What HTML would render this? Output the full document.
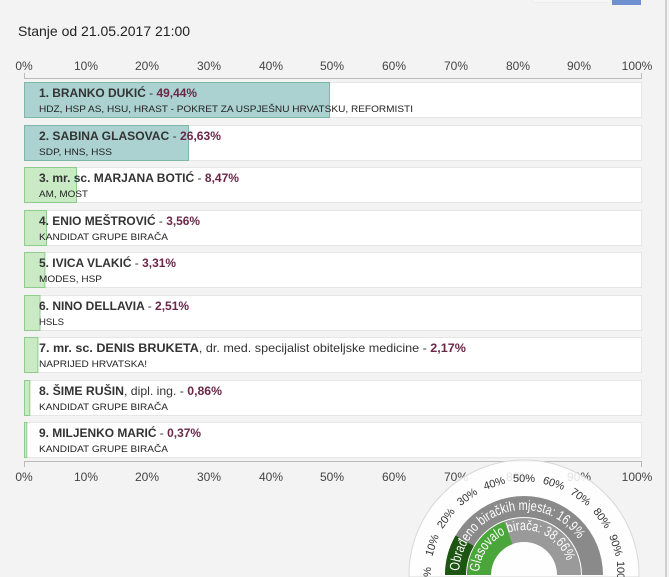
<!DOCTYPE html>
<html><head><meta charset="utf-8"><style>
html,body{margin:0;padding:0;background:#f3f3f3;width:669px;height:577px;overflow:hidden;}
svg{display:block;font-family:"Liberation Sans",sans-serif;}
</style></head><body>
<svg width="669" height="577" viewBox="0 0 669 577" xmlns="http://www.w3.org/2000/svg">
<defs>
<clipPath id="cl"><rect x="0" y="0" width="669" height="577"/></clipPath>
<path id="po" d="M459 575 A65 65 0 0 1 589 575"/>
<path id="pi" d="M479 575 A45 45 0 0 1 569 575"/>
</defs>
<rect x="0" y="0" width="669" height="577" fill="#f3f3f3"/>
<rect x="665" y="0" width="2" height="577" fill="#d0d0d0"/>
<rect x="532" y="0" width="79" height="2" fill="#fff" stroke="#ddd" stroke-width="0.5"/>
<rect x="612" y="0" width="29" height="5" fill="#6f8fcf"/>
<text x="18" y="36" font-size="14" fill="#222">Stanje od 21.05.2017 21:00</text>
<g font-size="12" fill="#444" text-anchor="middle">
<text x="24" y="70">0%</text><text x="86" y="70">10%</text><text x="147" y="70">20%</text><text x="209" y="70">30%</text><text x="271" y="70">40%</text><text x="332" y="70">50%</text><text x="394" y="70">60%</text><text x="456" y="70">70%</text><text x="518" y="70">80%</text><text x="579" y="70">90%</text><text x="637" y="70">100%</text>
<text x="24" y="481">0%</text><text x="86" y="481">10%</text><text x="147" y="481">20%</text><text x="209" y="481">30%</text><text x="271" y="481">40%</text><text x="332" y="481">50%</text><text x="394" y="481">60%</text><text x="456" y="481">70%</text><text x="518" y="481">80%</text><text x="579" y="481">90%</text><text x="637" y="481">100%</text>
</g>
<path d="M24.5 73V78.5H641.5V73" fill="none" stroke="#bbb"/>
<path d="M24.5 467V461.5H641.5V467" fill="none" stroke="#bbb"/>
<g stroke="#e6e6e6" fill="#fff">
<rect x="24.5" y="82.5" width="617" height="35"/>
<rect x="24.5" y="125.5" width="617" height="35"/>
<rect x="24.5" y="167.5" width="617" height="35"/>
<rect x="24.5" y="210.5" width="617" height="35"/>
<rect x="24.5" y="252.5" width="617" height="35"/>
<rect x="24.5" y="295.5" width="617" height="35"/>
<rect x="24.5" y="337.5" width="617" height="35"/>
<rect x="24.5" y="380.5" width="617" height="35"/>
<rect x="24.5" y="422.5" width="617" height="35"/>
</g>
<g>
<rect x="24.5" y="82.5" width="305" height="35" fill="#abd2d1" stroke="#7db8a6"/>
<rect x="24.5" y="125.5" width="164" height="35" fill="#abd2d1" stroke="#7db8a6"/>
<rect x="24.5" y="167.5" width="52" height="35" fill="#c9eac5" stroke="#8fcb8b"/>
<rect x="24.5" y="210.5" width="22" height="35" fill="#c9eac5" stroke="#8fcb8b"/>
<rect x="24.5" y="252.5" width="20.4" height="35" fill="#c9eac5" stroke="#8fcb8b"/>
<rect x="24.5" y="295.5" width="15.5" height="35" fill="#c9eac5" stroke="#8fcb8b"/>
<rect x="24.5" y="337.5" width="13.4" height="35" fill="#c9eac5" stroke="#8fcb8b"/>
<rect x="24.5" y="380.5" width="5.3" height="35" fill="#c9eac5" stroke="#8fcb8b"/>
<rect x="24.5" y="422.5" width="2.3" height="35" fill="#c9eac5" stroke="#8fcb8b"/>
</g>
<g font-size="12" font-weight="bold" fill="#333">
<text x="39" y="97" textLength="158" lengthAdjust="spacingAndGlyphs">1. BRANKO DUKIĆ <tspan font-weight="normal">-</tspan> <tspan fill="#6b2748">49,44%</tspan></text>
<text x="39" y="140" textLength="182" lengthAdjust="spacingAndGlyphs">2. SABINA GLASOVAC <tspan font-weight="normal">-</tspan> <tspan fill="#6b2748">26,63%</tspan></text>
<text x="39" y="182" textLength="200" lengthAdjust="spacingAndGlyphs">3. mr. sc. MARJANA BOTIĆ <tspan font-weight="normal">-</tspan> <tspan fill="#6b2748">8,47%</tspan></text>
<text x="39" y="225" textLength="161" lengthAdjust="spacingAndGlyphs">4. ENIO MEŠTROVIĆ <tspan font-weight="normal">-</tspan> <tspan fill="#6b2748">3,56%</tspan></text>
<text x="39" y="267" textLength="137" lengthAdjust="spacingAndGlyphs">5. IVICA VLAKIĆ <tspan font-weight="normal">-</tspan> <tspan fill="#6b2748">3,31%</tspan></text>
<text x="39" y="310">6. NINO DELLAVIA <tspan font-weight="normal">-</tspan> <tspan fill="#6b2748">2,51%</tspan></text>
<text x="39" y="352" textLength="427" lengthAdjust="spacingAndGlyphs">7. mr. sc. DENIS BRUKETA<tspan font-weight="normal">, dr. med. specijalist obiteljske medicine -</tspan> <tspan fill="#6b2748">2,17%</tspan></text>
<text x="39" y="395" textLength="183" lengthAdjust="spacingAndGlyphs">8. ŠIME RUŠIN<tspan font-weight="normal">, dipl. ing. -</tspan> <tspan fill="#6b2748">0,86%</tspan></text>
<text x="39" y="437" textLength="162" lengthAdjust="spacingAndGlyphs">9. MILJENKO MARIĆ <tspan font-weight="normal">-</tspan> <tspan fill="#6b2748">0,37%</tspan></text>
</g>
<g font-size="9.5" fill="#222">
<text x="39" y="112" textLength="374" lengthAdjust="spacingAndGlyphs">HDZ, HSP AS, HSU, HRAST - POKRET ZA USPJEŠNU HRVATSKU, REFORMISTI</text>
<text x="39" y="155" textLength="73" lengthAdjust="spacingAndGlyphs">SDP, HNS, HSS</text>
<text x="39" y="197" textLength="49" lengthAdjust="spacingAndGlyphs">AM, MOST</text>
<text x="39" y="240" textLength="129" lengthAdjust="spacingAndGlyphs">KANDIDAT GRUPE BIRAČA</text>
<text x="39" y="282" textLength="63" lengthAdjust="spacingAndGlyphs">MODES, HSP</text>
<text x="39" y="325" textLength="25" lengthAdjust="spacingAndGlyphs">HSLS</text>
<text x="39" y="367" textLength="108" lengthAdjust="spacingAndGlyphs">NAPRIJED HRVATSKA!</text>
<text x="39" y="410" textLength="129" lengthAdjust="spacingAndGlyphs">KANDIDAT GRUPE BIRAČA</text>
<text x="39" y="452" textLength="129" lengthAdjust="spacingAndGlyphs">KANDIDAT GRUPE BIRAČA</text>
</g>
<g clip-path="url(#cl)">
<path d="M409 577 L409 575 A115 115 0 0 1 639 575 L639 577 Z" fill="#fff" fill-opacity="0.85" stroke="#d8d8d8"/>
<path d="M445 575 A79 79 0 0 1 603 575 L582 575 A58 58 0 0 0 466 575 Z" fill="#8a8a8a"/>
<path d="M445 575 A79 79 0 0 1 455.6 535.5 L473.8 546 A58 58 0 0 0 466 575 Z" fill="#1d5512"/>
<path d="M467 575 A57 57 0 0 1 581 575 L557 575 A33 33 0 0 0 491 575 Z" fill="#9a9a9a"/>
<path d="M467 575 A57 57 0 0 1 504.2 521.6 L512.5 544.1 A33 33 0 0 0 491 575 Z" fill="#4aa63a"/>
<text font-size="14" fill="#fff"><textPath href="#po" startOffset="4" textLength="162" lengthAdjust="spacingAndGlyphs">Obrađeno biračkih mjesta: 16,9%</textPath></text>
<text font-size="14" fill="#fff"><textPath href="#pi" startOffset="3" textLength="124" lengthAdjust="spacingAndGlyphs">Glasovalo birača: 38,66%</textPath></text>
<g font-size="11" fill="#333" text-anchor="middle">
<text transform="translate(431,575) rotate(-90)">0%</text>
<text transform="translate(435.5,546.3) rotate(-72)">10%</text>
<text transform="translate(448.8,520.3) rotate(-54)">20%</text>
<text transform="translate(469.3,499.8) rotate(-36)">30%</text>
<text transform="translate(495.3,486.6) rotate(-18)">40%</text>
<text transform="translate(524,482) rotate(0)">50%</text>
<text transform="translate(552.7,486.6) rotate(18)">60%</text>
<text transform="translate(578.7,499.8) rotate(36)">70%</text>
<text transform="translate(599.2,520.3) rotate(54)">80%</text>
<text transform="translate(612.5,546.3) rotate(72)">90%</text>
<text transform="translate(617,575) rotate(90)">100%</text>
</g>
</g>
</svg>
</body></html>
